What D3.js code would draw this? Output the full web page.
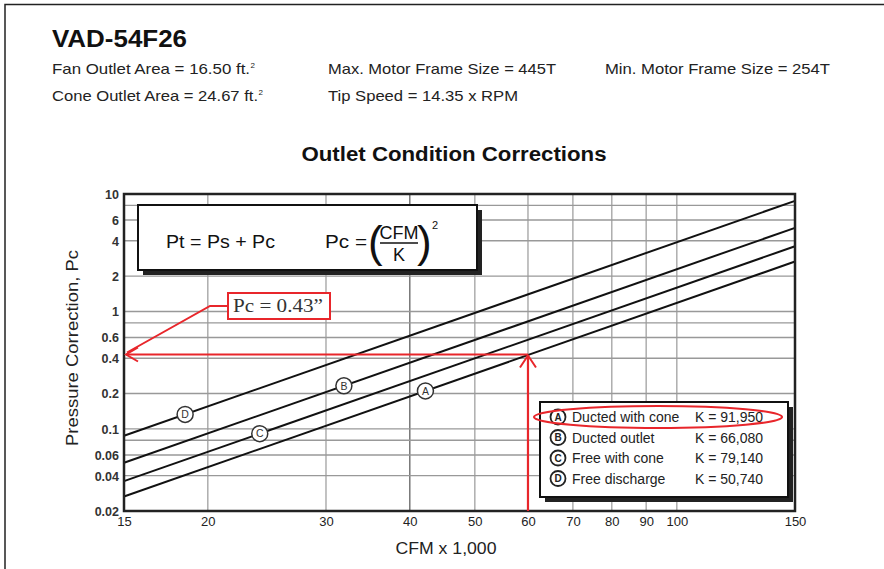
<!DOCTYPE html>
<html>
<head>
<meta charset="utf-8">
<script src="https://cdn.jsdelivr.net/npm/d3@7"></script>
<style>
  body { margin: 0; background: #fff; }
  svg { font-family: "Liberation Sans", Arial, sans-serif; }
</style>
</head>
<body>
<div id="grafico"></div>
<script>
var curveNames = ['A', 'B', 'C', 'D'];
var curveLabels = ['Ducted with cone', 'Ducted outlet', 'Free with cone', 'Free discharge'];
var curveK = ['91,950', '66,080', '79,140', '50,740'];
var curveCfm = [15, 150];
// Pc read at the left and right edges of the chart
var pcAt15 = [0.0266, 0.0515, 0.0359, 0.0874];
var pcAt150 = [2.66, 5.15, 3.59, 8.74];
// CFM (x 1,000) where the lettered circle sits on each line
var markerCfm = [42.2, 31.9, 23.9, 18.5];

var xTicks = [15, 20, 30, 40, 50, 60, 70, 80, 90, 100, 150];
var xGrid = [20, 30, 40, 50, 60, 70, 80, 90, 100];
var yTicks = [10, 6, 4, 2, 1, 0.6, 0.4, 0.2, 0.1, 0.06, 0.04, 0.02];
var yGrid = [8, 6, 4, 2, 1, 0.8, 0.6, 0.4, 0.2, 0.1, 0.08, 0.06, 0.04];

var readCfm = 60;
var readPc = 0.43;

var svgWidth = 884;
var svgHeight = 569;

var svg = d3.select("#grafico")
  .append("svg")
  .attr("width", svgWidth)
  .attr("height", svgHeight);

// page frame
svg.append("path")
  .attr("d", "M5,569 L5,4.5 L884,4.5")
  .attr("fill", "none")
  .attr("stroke", "#222")
  .attr("stroke-width", 1.5);

// header
svg.append("text").attr("x", 52).attr("y", 47)
  .attr("font-size", 23).attr("font-weight", "bold").attr("fill", "#111")
  .attr("textLength", 135).attr("lengthAdjust", "spacingAndGlyphs")
  .text("VAD-54F26");

var header = [
  { x: 52, y: 74, t: "Fan Outlet Area = 16.50 ft.", sup: true, w: 198 },
  { x: 328, y: 74, t: "Max. Motor Frame Size = 445T", w: 228 },
  { x: 605, y: 74, t: "Min. Motor Frame Size = 254T", w: 225 },
  { x: 52, y: 101, t: "Cone Outlet Area = 24.67 ft.", sup: true, w: 206 },
  { x: 328, y: 101, t: "Tip Speed = 14.35 x RPM", w: 190 }
];
header.forEach(function (h) {
  svg.append("text").attr("x", h.x).attr("y", h.y)
    .attr("font-size", 15).attr("fill", "#222")
    .attr("textLength", h.w).attr("lengthAdjust", "spacingAndGlyphs")
    .text(h.t);
  if (h.sup) {
    svg.append("text").attr("x", h.x + h.w + 0.5).attr("y", h.y - 6)
      .attr("font-size", 8).attr("fill", "#222").text("2");
  }
});

svg.append("text").attr("x", 454).attr("y", 161)
  .attr("text-anchor", "middle").attr("font-size", 20).attr("font-weight", "bold")
  .attr("fill", "#111")
  .attr("textLength", 305).attr("lengthAdjust", "spacingAndGlyphs")
  .text("Outlet Condition Corrections");

var margin = { top: 194, right: 89, bottom: 58, left: 124 };
var chartWidth = svgWidth - margin.left - margin.right;
var chartHeight = svgHeight - margin.top - margin.bottom;

var xScale = d3.scaleLog().domain([15, 150]).range([0, chartWidth]);
var yScale = d3.scaleLog().domain([0.02, 10]).range([chartHeight, 0]);

var chart = svg.append("g")
  .attr("transform", "translate(" + margin.left + "," + margin.top + ")");

// grid
chart.append("g").attr("class", "grid")
  .selectAll("line").data(xGrid).enter().append("line")
  .attr("x1", d => xScale(d)).attr("x2", d => xScale(d))
  .attr("y1", 0).attr("y2", chartHeight)
  .attr("stroke", d => (d === 40 ? "#555" : "#999"))
  .attr("stroke-width", 1.2);

chart.append("g").attr("class", "grid")
  .selectAll("line").data(yGrid).enter().append("line")
  .attr("x1", 0).attr("x2", chartWidth)
  .attr("y1", d => yScale(d)).attr("y2", d => yScale(d))
  .attr("stroke", "#999")
  .attr("stroke-width", 1.4);

// axes
var xAxis = d3.axisBottom(xScale).tickValues(xTicks).tickFormat(d3.format("d")).tickSize(0).tickPadding(6);
var yAxis = d3.axisLeft(yScale).tickValues(yTicks).tickFormat(d => String(d)).tickSize(0).tickPadding(5);

chart.append("g")
  .attr("class", "x axis")
  .attr("transform", "translate(0," + chartHeight + ")")
  .call(xAxis)
  .call(g => g.select(".domain").remove())
  .selectAll("text").attr("font-size", 13).attr("fill", "#222")
  .style("font-family", "'Liberation Sans Narrow', 'Liberation Sans', sans-serif");

chart.append("g")
  .attr("class", "y axis")
  .call(yAxis)
  .call(g => g.select(".domain").remove())
  .selectAll("text").attr("font-size", 12.5).attr("font-weight", "bold").attr("fill", "#333")
  .attr("dy", "0.35em");

// lines
var lineGen = d3.line().x(d => xScale(d[0])).y(d => yScale(d[1]));
chart.append("g").selectAll("path")
  .data(curveNames).enter().append("path")
  .attr("d", (d, i) => lineGen([[curveCfm[0], pcAt15[i]], [curveCfm[1], pcAt150[i]]]))
  .attr("fill", "none").attr("stroke", "#111").attr("stroke-width", 2);

// pc on a curve at a given cfm, reading along the drawn straight line
function pcOn(i, c) {
  var t = (Math.log(c) - Math.log(curveCfm[0])) / (Math.log(curveCfm[1]) - Math.log(curveCfm[0]));
  return Math.exp(Math.log(pcAt15[i]) + t * (Math.log(pcAt150[i]) - Math.log(pcAt15[i])));
}

var markers = chart.append("g").selectAll("g")
  .data(curveNames).enter().append("g")
  .attr("transform", (d, i) => "translate(" + xScale(markerCfm[i]) + "," + yScale(pcOn(i, markerCfm[i])) + ")");
markers.append("circle").attr("r", 8).attr("fill", "#fff").attr("stroke", "#333").attr("stroke-width", 1.5);
markers.append("text").attr("text-anchor", "middle").attr("dy", "0.36em")
  .attr("font-size", 10.5).attr("fill", "#333").text(d => d);

// plot border
chart.append("rect")
  .attr("x", 0).attr("y", 0).attr("width", chartWidth).attr("height", chartHeight)
  .attr("fill", "none").attr("stroke", "#222").attr("stroke-width", 2.5);

// formula box
var fb = chart.append("g").attr("transform", "translate(" + (138 - margin.left) + "," + (205 - margin.top) + ")");
fb.append("rect").attr("x", 5).attr("y", 5).attr("width", 339).attr("height", 65).attr("fill", "#222");
fb.append("rect").attr("x", 0).attr("y", 0).attr("width", 339).attr("height", 65)
  .attr("fill", "#fff").attr("stroke", "#111").attr("stroke-width", 2);
fb.append("text").attr("x", 28).attr("y", 43).attr("font-size", 19).attr("fill", "#111")
  .attr("textLength", 109).attr("lengthAdjust", "spacingAndGlyphs").text("Pt = Ps + Pc");
fb.append("text").attr("x", 187).attr("y", 43).attr("font-size", 19).attr("fill", "#111")
  .attr("textLength", 42).attr("lengthAdjust", "spacingAndGlyphs").text("Pc =");
fb.append("text").attr("x", 230).attr("y", 52).attr("font-size", 44).attr("fill", "#111")
  .attr("transform", "scale(1,1)").text("(");
fb.append("text").attr("x", 279).attr("y", 52).attr("font-size", 44).attr("fill", "#111").text(")");
fb.append("text").attr("x", 261).attr("y", 34).attr("text-anchor", "middle").attr("font-size", 18).attr("fill", "#111").text("CFM");
fb.append("line").attr("x1", 242).attr("x2", 280).attr("y1", 38).attr("y2", 38).attr("stroke", "#111").attr("stroke-width", 1.6);
fb.append("text").attr("x", 261).attr("y", 56).attr("text-anchor", "middle").attr("font-size", 18).attr("fill", "#111").text("K");
fb.append("text").attr("x", 294).attr("y", 24).attr("font-size", 11).attr("fill", "#111").text("2");

// red read-off
var red = "#e8262b";
var rx = xScale(readCfm);
var ry = yScale(readPc);
chart.append("path")
  .attr("d", "M" + rx + "," + chartHeight + " L" + rx + "," + (ry + 1) + " M" + rx + "," + ry + " L2," + ry)
  .attr("fill", "none").attr("stroke", red).attr("stroke-width", 2.2);
chart.append("path")
  .attr("d", "M" + (rx - 8) + "," + (ry + 13) + " L" + rx + "," + (ry + 1) + " L" + (rx + 8) + "," + (ry + 13))
  .attr("fill", "none").attr("stroke", red).attr("stroke-width", 2);
chart.append("path")
  .attr("d", "M14," + (ry - 7) + " L2," + ry + " L14," + (ry + 7))
  .attr("fill", "none").attr("stroke", red).attr("stroke-width", 2);
// pointer from label to arrow tip
chart.append("path")
  .attr("d", "M" + (228 - margin.left) + "," + (306 - margin.top) + " L" + (210 - margin.left) + "," + (306 - margin.top) + " L3," + (ry - 2))
  .attr("fill", "none").attr("stroke", red).attr("stroke-width", 2);
chart.append("rect")
  .attr("x", 228 - margin.left).attr("y", 293 - margin.top).attr("width", 102).attr("height", 26)
  .attr("fill", "#fff").attr("stroke", red).attr("stroke-width", 2);
chart.append("text")
  .attr("x", 233 - margin.left).attr("y", 312 - margin.top)
  .style("font-family", "'Liberation Serif', 'DejaVu Serif', serif").attr("font-size", 19).attr("fill", "#333")
  .attr("textLength", 90).attr("lengthAdjust", "spacingAndGlyphs")
  .text("Pc = 0.43\u201D");

// legend
var lg = chart.append("g").attr("transform", "translate(" + (540 - margin.left) + "," + (402 - margin.top) + ")");
lg.append("rect").attr("x", 5).attr("y", 5).attr("width", 248).attr("height", 95).attr("fill", "#222");
lg.append("rect").attr("x", 0).attr("y", 0).attr("width", 248).attr("height", 95)
  .attr("fill", "#fff").attr("stroke", "#111").attr("stroke-width", 2);
var rows = lg.selectAll("g.row").data(curveNames).enter().append("g")
  .attr("class", "row")
  .attr("transform", (d, i) => "translate(0," + (15 + i * 20.5) + ")");
rows.append("circle").attr("cx", 18).attr("cy", 0).attr("r", 7.5).attr("fill", "#fff")
  .attr("stroke", "#222").attr("stroke-width", 1.8);
rows.append("text").attr("x", 18).attr("dy", "0.36em").attr("text-anchor", "middle")
  .attr("font-size", 10).attr("font-weight", "bold").attr("fill", "#222").text(d => d);
rows.append("text").attr("x", 32).attr("dy", "0.36em").attr("font-size", 14).attr("fill", "#222")
  .text((d, i) => curveLabels[i]);
rows.append("text").attr("x", 155).attr("dy", "0.36em").attr("font-size", 14).attr("fill", "#222")
  .text((d, i) => "K = " + curveK[i]);
lg.append("ellipse").attr("cx", 118).attr("cy", 15).attr("rx", 124).attr("ry", 11)
  .attr("fill", "none").attr("stroke", red).attr("stroke-width", 2.2);

// axis titles
svg.append("text").attr("x", 446).attr("y", 554).attr("text-anchor", "middle")
  .attr("font-size", 17).attr("fill", "#222")
  .attr("textLength", 101).attr("lengthAdjust", "spacingAndGlyphs")
  .text("CFM x 1,000");
svg.append("text")
  .attr("transform", "translate(78,348) rotate(-90)")
  .attr("text-anchor", "middle").attr("font-size", 17).attr("fill", "#222")
  .attr("textLength", 196).attr("lengthAdjust", "spacingAndGlyphs")
  .text("Pressure Correction,  Pc");
</script>
</body>
</html>
